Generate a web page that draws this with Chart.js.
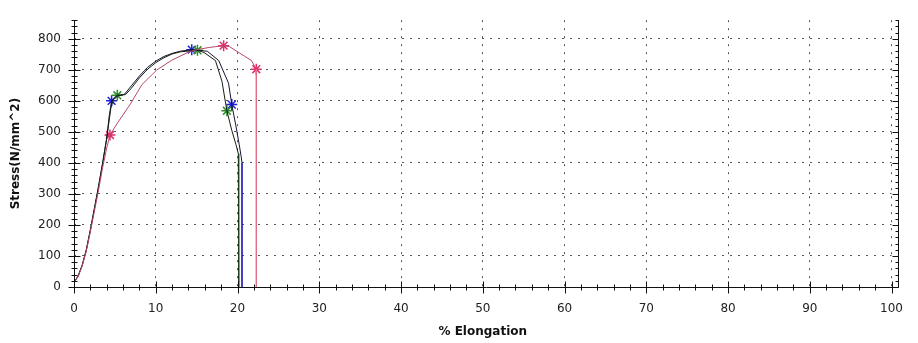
<!DOCTYPE html>
<html>
<head>
<meta charset="utf-8">
<script src="https://cdn.jsdelivr.net/npm/chart.js@4.4.0/dist/chart.umd.min.js"></script>
<style>
  html, body { margin: 0; padding: 0; background: #fff; }
  #wrap { width: 918px; height: 343px; position: relative; }
</style>
</head>
<body>
<div id="wrap"><canvas id="c"></canvas></div>
<script>
// ── Data ──────────────────────────────────────────────────────────────────
const Y_MAX = 860;

// specimen A (blue markers)
const ELONG_A  = [0, 0.5, 1, 1.5, 2, 2.5, 3, 3.5, 4, 4.3, 4.6, 5.3, 6.2, 7, 8, 9, 10, 11, 12, 13, 14.4, 16.3, 17.7, 18.9, 19.3, 19.8, 20.2, 20.45, 20.55, 20.55];
const STRESS_A = [15, 35, 70, 120, 185, 255, 325, 400, 480, 550, 600, 615, 622, 648, 680, 708, 728, 743, 753, 760, 765, 760, 730, 657, 588, 520, 460, 420, 400, 0];

// specimen B (green markers)
const ELONG_B  = [0, 0.5, 1, 1.5, 2, 2.5, 3, 3.5, 4, 4.5, 4.8, 5.3, 6.3, 7, 8, 9, 10, 11, 12, 13, 15.1, 15.9, 17.3, 18.1, 18.7, 19.3, 19.8, 20.1, 20.15];
const STRESS_B = [15, 35, 70, 118, 182, 252, 322, 398, 478, 575, 605, 618, 620, 640, 674, 702, 723, 739, 751, 758, 763, 756, 730, 663, 568, 505, 460, 430, 0];

// specimen C (red markers)
const ELONG_C  = [0, 0.5, 1, 1.5, 2, 2.5, 3, 3.5, 4, 4.4, 5.3, 6.9, 8.3, 10.1, 11.9, 13.9, 15, 16.5, 18.3, 19, 21.7, 22.3, 22.3];
const STRESS_C = [15, 33, 68, 115, 178, 245, 312, 385, 448, 490, 528, 590, 652, 699, 730, 756, 765, 772, 778, 775, 730, 702, 0];

// marked points (yield, max, break)
const MARK_A_X = [4.6, 14.4, 19.3];
const MARK_A_Y = [600, 765, 588];
const MARK_B_X = [5.3, 15.1, 18.7];
const MARK_B_Y = [618, 763, 568];
const MARK_C_X = [4.4, 18.3, 22.3];
const MARK_C_Y = [490, 778, 702];

const pts = (xs, ys) => xs.map((x, i) => ({ x, y: ys[i] }));

// ── Curve / marker dataset builders ───────────────────────────────────────
function curve(xs, ys, color, dropColor) {
  const last = xs.length - 1;
  return {
    data: pts(xs, ys),
    showLine: true,
    borderColor: color,
    borderWidth: 1,
    pointRadius: 0,
    tension: 0,
    segment: {
      // the final vertical drop to zero is drawn in the specimen colour
      borderColor: (c) => (c.p1DataIndex === last ? dropColor : undefined),
    },
  };
}

function markers(xs, ys, color) {
  return {
    data: pts(xs, ys),
    showLine: false,
    pointStyle: 'star',
    pointRadius: 5.5,
    borderColor: color,
    backgroundColor: color,
    pointBorderWidth: 1.5,
  };
}

// ── Axis lines + tick marks (drawn through the scales) ────────────────────
const axisFrame = {
  id: 'axisFrame',
  afterDatasetsDraw(chart) {
    const { ctx, scales: { x, y } } = chart;
    const x0 = Math.round(x.getPixelForValue(0)) + 0.5;
    const x1 = Math.round(x.getPixelForValue(100)) + 0.5;
    const xr = x1 + 6;
    const y0 = Math.round(y.getPixelForValue(0)) + 0.5;
    const yt = Math.round(y.getPixelForValue(Y_MAX));
    ctx.save();
    ctx.strokeStyle = '#111';
    ctx.lineWidth = 1;
    ctx.beginPath();
    ctx.moveTo(x0, yt); ctx.lineTo(x0, y0);
    ctx.moveTo(x0, y0); ctx.lineTo(xr, y0);
    ctx.moveTo(xr, yt); ctx.lineTo(xr, y0);
    for (let v = 0; v <= Y_MAX; v += 20) {
      const py = Math.round(y.getPixelForValue(v)) + 0.5;
      const len = v % 100 === 0 ? 6 : 3;
      ctx.moveTo(x0 - len, py); ctx.lineTo(x0 + len, py);
      ctx.moveTo(xr - len, py); ctx.lineTo(xr, py);
    }
    for (let v = 0; v <= 100; v += 2) {
      const px = Math.round(x.getPixelForValue(v)) + 0.5;
      const len = v % 10 === 0 ? 6 : 3;
      ctx.moveTo(px, y0 - len); ctx.lineTo(px, y0 + len);
    }
    ctx.stroke();
    ctx.restore();
  },
};

const tickFont = { family: 'DejaVu Sans', size: 12 };
const titleFont = { family: 'DejaVu Sans', size: 12, weight: 'bold' };
const dots = { display: false, dash: [2, 6] };

new Chart(document.getElementById('c'), {
  type: 'scatter',
  data: {
    datasets: [
      curve(ELONG_C, STRESS_C, '#b84868', '#e07088'),
      curve(ELONG_B, STRESS_B, '#142014', '#1e3a1e'),
      curve(ELONG_A, STRESS_A, '#141430', '#2828b8'),
      markers(MARK_C_X, MARK_C_Y, '#e0306a'),
      markers(MARK_B_X, MARK_B_Y, '#2c8c2c'),
      markers(MARK_A_X, MARK_A_Y, '#2020d8'),
    ],
  },
  options: {
    responsive: true,
    maintainAspectRatio: false,
    animation: false,
    layout: { padding: { left: 0, right: 11, top: 10, bottom: 0 } },
    plugins: { legend: { display: false }, tooltip: { enabled: false } },
    scales: {
      x: {
        type: 'linear',
        min: 0, max: 100,
        afterFit: (s) => { s.height = 56; },
        ticks: { stepSize: 10, color: '#222', font: tickFont, padding: 15, maxRotation: 0 },
        grid: {
          drawTicks: false,
          color: (c) => (c.tick && c.tick.value === 0 ? 'rgba(0,0,0,0)' : '#555'),
        },
        border: dots,
        title: { display: true, text: '% Elongation', color: '#111', font: titleFont, padding: { top: 0, bottom: 4 } },
      },
      y: {
        type: 'linear',
        min: 0, max: Y_MAX,
        afterFit: (s) => { s.width = 74; },
        afterBuildTicks: (s) => { s.ticks = s.ticks.filter((t) => t.value % 100 === 0); },
        ticks: { stepSize: 100, color: '#222', font: tickFont, padding: 13 },
        grid: {
          drawTicks: false,
          color: (c) => (c.tick && c.tick.value === 0 ? 'rgba(0,0,0,0)' : '#555'),
        },
        border: dots,
        title: { display: true, text: 'Stress(N/mm^2)', color: '#111', font: titleFont, padding: { top: 9, bottom: 0 } },
      },
    },
  },
  plugins: [axisFrame],
});
</script>
</body>
</html>
